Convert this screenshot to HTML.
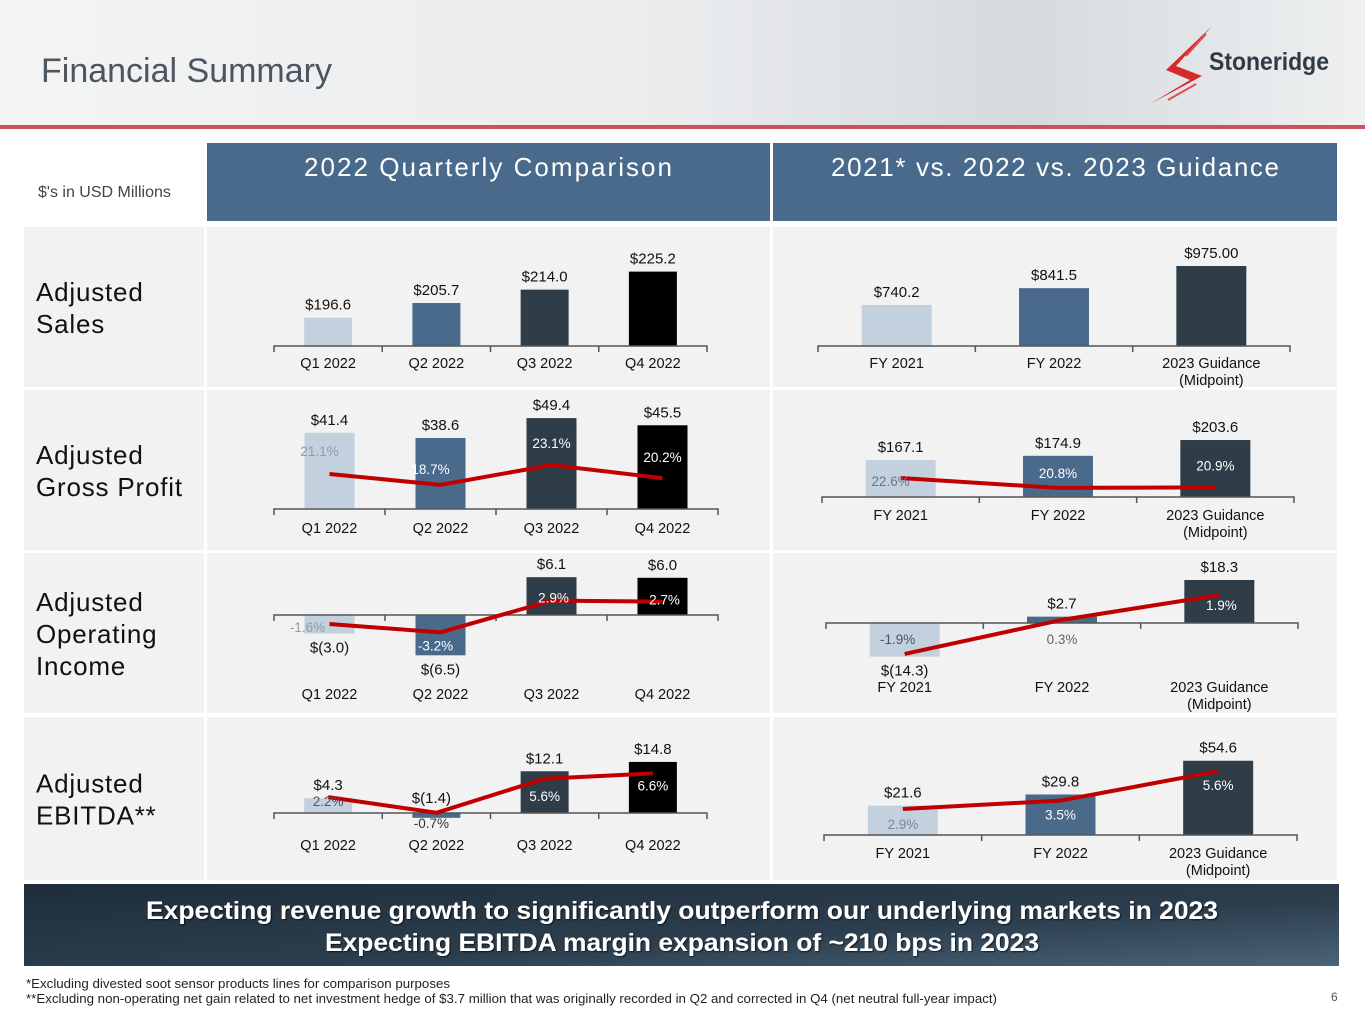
<!DOCTYPE html>
<html><head><meta charset="utf-8">
<style>
html,body{margin:0;padding:0;width:1365px;height:1024px;overflow:hidden;background:#fff;font-family:"Liberation Sans",sans-serif;}
svg text{font-family:"Liberation Sans",sans-serif;}
</style></head>
<body>
<svg id="slide" width="1365" height="1024" viewBox="0 0 1365 1024">
<defs>
<linearGradient id="hdr" x1="0" y1="0" x2="1" y2="0">
<stop offset="0" stop-color="#f4f4f4"/><stop offset="0.5" stop-color="#e9ebed"/><stop offset="0.75" stop-color="#d6dade"/><stop offset="1" stop-color="#eef0f1"/>
</linearGradient>
<linearGradient id="ban" x1="0" y1="0" x2="1" y2="1">
<stop offset="0" stop-color="#1f2d3a"/><stop offset="0.6" stop-color="#2c3e4e"/><stop offset="1" stop-color="#4a6478"/>
</linearGradient>
<filter id="sh"><feDropShadow dx="1" dy="1" stdDeviation="0.8" flood-color="#000" flood-opacity="0.7"/></filter>
</defs>
<rect x="0" y="0" width="1365" height="126" fill="url(#hdr)"/>
<rect x="0" y="125" width="1365" height="4" fill="#d0505a"/>
<text x="41" y="82" font-size="34" fill="#4b5661">Financial Summary</text>
<g>
<path d="M1212 26 L1176 66 L1202 76 L1150 104 L1190 80 L1166 70 Z" fill="#d42a2a"/>
<path d="M1206 34 L1186 56 M1196 84 L1168 100" stroke="#e05050" stroke-width="2"/>
<text x="1209" y="70" font-size="25" font-weight="bold" fill="#2f3a44" textLength="120" lengthAdjust="spacingAndGlyphs">Stoneridge</text>
</g>
<text x="38" y="197" font-size="16" fill="#444">$'s in USD Millions</text>
<rect x="207" y="143" width="563" height="78" fill="#4a6a8c"/>
<rect x="773" y="143" width="564" height="78" fill="#4a6a8c"/>
<text x="488" y="176" font-size="26" fill="#fff" text-anchor="middle" textLength="368" lengthAdjust="spacing">2022 Quarterly Comparison</text>
<text x="1055" y="176" font-size="26" fill="#fff" text-anchor="middle" textLength="448" lengthAdjust="spacing">2021* vs. 2022 vs. 2023 Guidance</text>
<g id="grid"></g>
<g id="charts"></g>
<rect x="24" y="884" width="1315" height="82" fill="url(#ban)"/>
<text x="682" y="919" font-size="25" font-weight="bold" fill="#fff" text-anchor="middle" textLength="1072" lengthAdjust="spacingAndGlyphs" filter="url(#sh)">Expecting revenue growth to significantly outperform our underlying markets in 2023</text>
<text x="682" y="951" font-size="25" font-weight="bold" fill="#fff" text-anchor="middle" textLength="714" lengthAdjust="spacingAndGlyphs" filter="url(#sh)">Expecting EBITDA margin expansion of ~210 bps in 2023</text>
<text x="26" y="988" font-size="13" fill="#222" textLength="424" lengthAdjust="spacingAndGlyphs">*Excluding divested soot sensor products lines for comparison purposes</text>
<text x="26" y="1003" font-size="13" fill="#222" textLength="971" lengthAdjust="spacingAndGlyphs">**Excluding non-operating net gain related to net investment hedge of $3.7 million that was originally recorded in Q2 and corrected in Q4 (net neutral full-year impact)</text>
<text x="1331" y="1001" font-size="12" fill="#555">6</text>
</svg>
<script>
const NS="http://www.w3.org/2000/svg";
// ---- data ----
const quarterCats=["Q1 2022","Q2 2022","Q3 2022","Q4 2022"];
const yearCats=[["FY 2021"],["FY 2022"],["2023 Guidance","(Midpoint)"]];
const rowLabels=[["Adjusted","Sales"],["Adjusted","Gross Profit"],["Adjusted","Operating","Income"],["Adjusted","EBITDA**"]];
const salesQ=[196.6,205.7,214.0,225.2];
const salesQLabels=["$196.6","$205.7","$214.0","$225.2"];
const gpQ=[41.4,38.6,49.4,45.5];
const gpQLabels=["$41.4","$38.6","$49.4","$45.5"];
const gpQPct=[21.1,18.7,23.1,20.2];
const opQ=[-3.0,-6.5,6.1,6.0];
const opQLabels=["$(3.0)","$(6.5)","$6.1","$6.0"];
const opQPct=[-1.6,-3.2,2.9,2.7];
const ebQ=[4.3,-1.4,12.1,14.8];
const ebQLabels=["$4.3","$(1.4)","$12.1","$14.8"];
const ebQPct=[2.2,-0.7,5.6,6.6];
const salesY=[740.2,841.5,975.0];
const salesYLabels=["$740.2","$841.5","$975.00"];
const gpY=[167.1,174.9,203.6];
const gpYLabels=["$167.1","$174.9","$203.6"];
const gpYPct=[22.6,20.8,20.9];
const opY=[-14.3,2.7,18.3];
const opYLabels=["$(14.3)","$2.7","$18.3"];
const opYPct=[-1.9,0.3,1.9];
const ebY=[21.6,29.8,54.6];
const ebYLabels=["$21.6","$29.8","$54.6"];
const ebYPct=[2.9,3.5,5.6];

const qColors=["#c3d1df","#4a6a8c","#2e3d48","#000"];
const yColors=["#c3d1df","#4a6a8c","#2e3d48"];
const qPctColors=["#8b9cad","#fff","#fff","#fff"];
const yPctColors=["#66778a","#fff","#fff"];

function el(tag,attrs,parent){const e=document.createElementNS(NS,tag);for(const k in attrs)e.setAttribute(k,attrs[k]);parent.appendChild(e);return e;}

const grid=document.getElementById('grid');
const rows=[[227,160],[390,160],[553,160],[717,163]];
rows.forEach((r,i)=>{
  const a=el('rect',{x:24,y:r[0],width:180,height:r[1],fill:'#f2f2f2'},grid);
  
  
  const b=el('rect',{x:207,y:r[0],width:563,height:r[1],fill:'#f2f2f2'},grid);
  
  
  const c=el('rect',{x:773,y:r[0],width:564,height:r[1],fill:'#f2f2f2'},grid);
  
  
  const lines=rowLabels[i];
  const cy=r[0]+r[1]/2-(lines.length-1)*16+10;
  lines.forEach((t,j)=>{
    const tx=el('text',{x:36,y:cy+j*32,'font-size':26,fill:'#111','letter-spacing':'0.8'},grid);
    tx.textContent=t;
    
    
  });
});

const charts=document.getElementById('charts');
function chart(cfg){
  const g=el('g',{},charts);
  
  
  const n=cfg.values.length;
  const step=(cfg.x1-cfg.x0)/n;
  const xc=i=>cfg.x0+step*(i+0.5);
  const yv=v=>cfg.base-(v-cfg.min)*cfg.k;
  cfg.values.forEach((v,i)=>{
    const y0=yv(Math.max(cfg.min,0)), y1=yv(v);
    const r=el('rect',{x:xc(i)-cfg.bw/2,y:Math.min(y0,y1),width:cfg.bw,height:Math.abs(y1-y0),fill:cfg.colors[i]},g);
    
    
    let ly=v>=0?y1-8:y1+19;
    let lx=xc(i);
    if(v<0&&cfg.negAbove){ly=y0-10;lx=xc(i)-5;}
    const t=el('text',{x:lx,y:ly,'font-size':15,'text-anchor':'middle',fill:'#111'},g);
    t.textContent=cfg.labels[i];
    
    
  });
  const ax=el('path',{d:`M${cfg.x0} ${cfg.base+6}V${cfg.base}H${cfg.x1}V${cfg.base+6}`+Array.from({length:n-1},(_,i)=>`M${cfg.x0+step*(i+1)} ${cfg.base}v6`).join(''),stroke:'#555','stroke-width':1.5,fill:'none'},g);
  
  
  cfg.cats.forEach((c,i)=>{
    const lines=Array.isArray(c)?c:[c];
    lines.forEach((s,j)=>{
      const t=el('text',{x:xc(i),y:cfg.catY+j*17,'font-size':14.5,'text-anchor':'middle',fill:'#111'},g);
      t.textContent=s;
      
      
    });
  });
  if(cfg.pct){
    const py=p=>cfg.pBase-p*cfg.pk;
    const pts=cfg.pct.map((p,i)=>[xc(i),py(p)]);
    const pl=el('polyline',{points:pts.map(p=>p.join(',')).join(' '),fill:'none',stroke:'#c00000','stroke-width':4,'stroke-linejoin':'miter'},g);
    
    
    cfg.pct.forEach((p,i)=>{
      const t=el('text',{x:xc(i)+(cfg.pdx?cfg.pdx[i]:0),y:py(p)+cfg.pdy[i],'font-size':13.5,'text-anchor':'middle',fill:cfg.pcolors[i]},g);
      t.textContent=p.toFixed(1)+'%';
      
      
    });
  }
}
chart({name:'adjusted-sales-quarterly',values:salesQ,labels:salesQLabels,cats:quarterCats,colors:qColors,x0:274,x1:707,bw:48,base:346,min:179,k:1.61,catY:368});
chart({name:'adjusted-gross-profit-quarterly',values:gpQ,labels:gpQLabels,cats:quarterCats,colors:qColors,x0:274,x1:718,bw:50,base:509,min:0,k:1.84,catY:533,pct:gpQPct,pBase:569,pk:4.5,pdy:[-18,-11,-17,-16],pdx:[-10,-10,0,0],pcolors:qPctColors});
chart({name:'adjusted-operating-income-quarterly',values:opQ,labels:opQLabels,cats:quarterCats,colors:qColors,x0:274,x1:718,bw:50,base:615,min:0,k:6.2,catY:699,pct:opQPct,pBase:615.7,pk:5.2,pdy:[8,18,2,3],pdx:[-22,-5,2,2],pcolors:qPctColors});
chart({name:'adjusted-ebitda-quarterly',values:ebQ,labels:ebQLabels,cats:quarterCats,colors:qColors,x0:274,x1:707,bw:48,base:813,min:0,k:3.45,catY:850,negAbove:true,pct:ebQPct,pBase:809,pk:5.4,pdy:[9,15,22,17],pdx:[0,-5,0,0],pcolors:['#555','#333','#fff','#fff']});
chart({name:'adjusted-sales-annual',values:salesY,labels:salesYLabels,cats:yearCats,colors:yColors,x0:818,x1:1290,bw:70,base:346,min:493,k:0.166,catY:368});
chart({name:'adjusted-gross-profit-annual',values:gpY,labels:gpYLabels,cats:yearCats,colors:yColors,x0:822,x1:1294,bw:70,base:497,min:100,k:0.55,catY:520,pct:gpYPct,pBase:602.3,pk:5.5,pdy:[8,-10,-17],pdx:[-10,0,0],pcolors:yPctColors});
chart({name:'adjusted-operating-income-annual',values:opY,labels:opYLabels,cats:yearCats,colors:yColors,x0:826,x1:1298,bw:70,base:623,min:0,k:2.35,catY:692,pct:opYPct,pBase:624.5,pk:15.5,pdy:[-10,24,15],pdx:[-7,0,2],pcolors:['#445566','#666','#fff']});
chart({name:'adjusted-ebitda-annual',values:ebY,labels:ebYLabels,cats:yearCats,colors:yColors,x0:824,x1:1297,bw:70,base:835,min:0,k:1.36,catY:858,pct:ebYPct,pBase:849.6,pk:14,pdy:[20,19,19],pdx:[0,0,0],pcolors:['#778899','#fff','#fff']});
</script>
</body></html>
